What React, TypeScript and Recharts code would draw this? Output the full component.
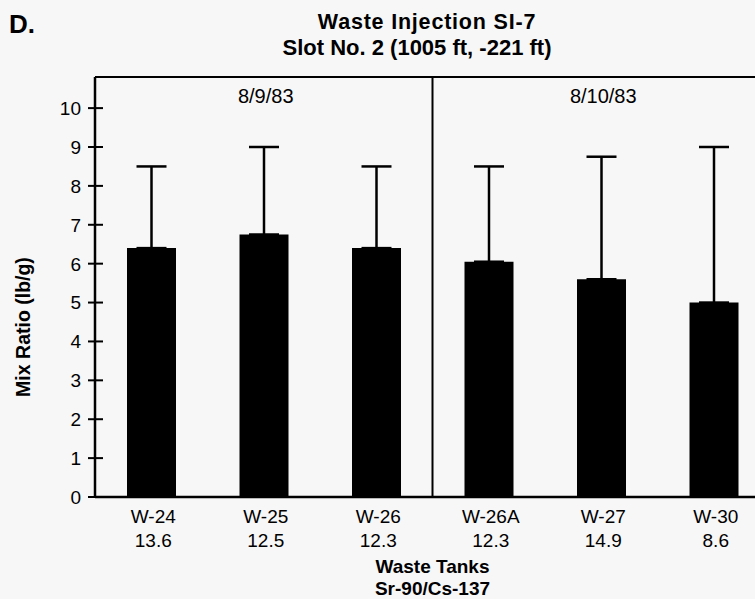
import React from 'react';
import { BarChart, Bar, XAxis, YAxis, ErrorBar, ReferenceLine, Label } from 'recharts';

const tanks = ['W-24', 'W-25', 'W-26', 'W-26A', 'W-27', 'W-30'];
const srCsRatios = ['13.6', '12.5', '12.3', '12.3', '14.9', '8.6'];
const mixRatios = [6.4, 6.75, 6.4, 6.05, 5.6, 5.0];
const upperLimits = [8.5, 9.0, 8.5, 8.5, 8.75, 9.0];
const yTicks = [0, 1, 2, 3, 4, 5, 6, 7, 8, 9, 10];
const dates = ['8/9/83', '8/10/83'];
const dateCenters = ['W-25', 'W-27'];
const Y_MAX = 10.8;

const FONT = '"Liberation Sans", Arial, Helvetica, sans-serif';

const data = tanks.map((t, i) => ({
  tank: t,
  ratio: srCsRatios[i],
  mix: mixRatios[i],
  err: [0, +(upperLimits[i] - mixRatios[i]).toFixed(2)],
}));

const YTick = (props: any) => {
  const { x, y, payload } = props;
  return (
    <g>
      <line x1={x - 7} x2={x + 8} y1={y} y2={y} stroke="#000" strokeWidth={2} />
      <text x={x - 14} y={y} dy="0.36em" textAnchor="end" fontSize={19} fontFamily={FONT} fill="#000">
        {payload.value}
      </text>
    </g>
  );
};

const XTick = (props: any) => {
  const { x, y, payload, index } = props;
  return (
    <g>
      <text x={x + 2} y={y + 26} textAnchor="middle" fontSize={19} fontFamily={FONT} fill="#000">
        {payload.value}
      </text>
      <text x={x + 2} y={y + 50} textAnchor="middle" fontSize={19} fontFamily={FONT} fill="#000">
        {srCsRatios[index]}
      </text>
    </g>
  );
};

const XTitle = (props: any) => {
  const vb = props.viewBox || {};
  const cx = vb.x + vb.width / 2;
  return (
    <g>
      <text x={cx} y={vb.y + 76} textAnchor="middle" fontSize={19} fontWeight="bold" fontFamily={FONT} fill="#000">
        Waste Tanks
      </text>
      <text x={cx} y={vb.y + 98} textAnchor="middle" fontSize={19} fontWeight="bold" fontFamily={FONT} fill="#000">
        Sr-90/Cs-137
      </text>
    </g>
  );
};

const YTitle = (props: any) => {
  const vb = props.viewBox || {};
  const cx = vb.x + 30;
  const cy = vb.y + vb.height / 2 + 40;
  return (
    <text
      x={cx}
      y={cy}
      transform={`rotate(-90 ${cx} ${cy})`}
      textAnchor="middle"
      fontSize={19.5}
      fontWeight="bold"
      fontFamily={FONT}
      fill="#000"
    >
      Mix Ratio (lb/g)
    </text>
  );
};

const dateLabel = (text: string) => (props: any) => {
  const vb = props.viewBox || {};
  return (
    <text x={vb.x + 2} y={vb.y + 26} textAnchor="middle" fontSize={20} fontFamily={FONT} fill="#000">
      {text}
    </text>
  );
};

export default function App() {
  return (
    <div
      style={{
        position: 'absolute',
        left: 0,
        top: 0,
        width: 755,
        height: 599,
        overflow: 'hidden',
        background: '#f7f7f7',
      }}
    >
      <BarChart
        width={800}
        height={599}
        data={data}
        margin={{ top: 77, right: 30, left: 0, bottom: 0 }}
        barSize={49}
      >
        <XAxis
          dataKey="tank"
          height={102}
          tickLine={false}
          tickSize={0}
          tickMargin={0}
          axisLine={{ stroke: '#000', strokeWidth: 2.5 }}
          tick={<XTick />}
          interval={0}
        >
          <Label content={<XTitle />} />
        </XAxis>
        <YAxis
          width={95}
          type="number"
          domain={[0, Y_MAX]}
          ticks={yTicks}
          tickLine={false}
          tickSize={0}
          tickMargin={0}
          axisLine={{ stroke: '#000', strokeWidth: 2.5 }}
          tick={<YTick />}
          interval={0}
        >
          <Label content={<YTitle />} />
        </YAxis>
        <ReferenceLine y={Y_MAX} stroke="#000" strokeWidth={2} ifOverflow="visible" />
        <ReferenceLine x="W-26A" position="start" stroke="#000" strokeWidth={2} />
        {dates.map((d, i) => (
          <ReferenceLine key={d} x={dateCenters[i]} stroke="none" label={dateLabel(d)} />
        ))}
        <Bar dataKey="mix" fill="#000" isAnimationActive={false}>
          <ErrorBar dataKey="err" width={15} strokeWidth={2.5} stroke="#000" direction="y" />
        </Bar>
      </BarChart>
      <svg
        width={755}
        height={599}
        style={{ position: 'absolute', left: 0, top: 0, pointerEvents: 'none' }}
      >
        <text x={9} y={33} fontSize={26} fontWeight="bold" fontFamily={FONT} fill="#000">
          D.
        </text>
        <text x={427} y={29} textAnchor="middle" fontSize={21.5} fontWeight="bold" fontFamily={FONT} fill="#000" letterSpacing={0.8}>
          Waste Injection SI-7
        </text>
        <text x={417} y={55} textAnchor="middle" fontSize={22} fontWeight="bold" fontFamily={FONT} fill="#000">
          Slot No. 2 (1005 ft, -221 ft)
        </text>
      </svg>
    </div>
  );
}
